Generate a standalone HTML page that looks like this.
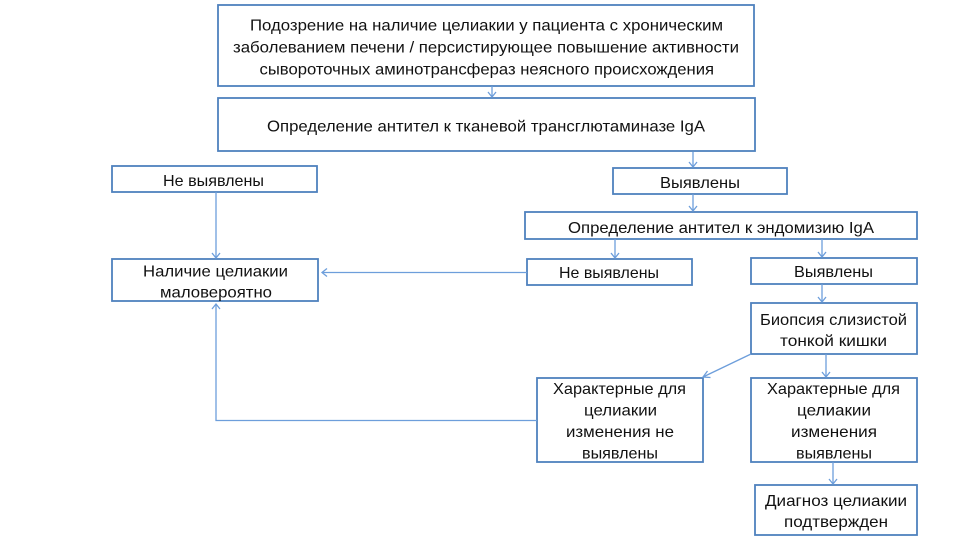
<!DOCTYPE html>
<html>
<head>
<meta charset="utf-8">
<style>
  html, body { margin:0; padding:0; background:#fff; }
  svg { display:block; }
  text { font-family: "Liberation Sans", "Noto Sans CJK SC", sans-serif; font-size:16px; fill:#111; }
</style>
</head>
<body>
<svg width="973" height="548" viewBox="0 0 973 548" xmlns="http://www.w3.org/2000/svg">
  <rect x="0" y="0" width="973" height="548" fill="#fff"/>
  <!-- boxes -->
  <g fill="#fff" stroke="#4f81bd" stroke-width="1.8">
    <rect x="218" y="5" width="536" height="81"/>
    <rect x="218" y="98" width="537" height="53"/>
    <rect x="112" y="166" width="205" height="26"/>
    <rect x="112" y="259" width="206" height="42"/>
    <rect x="613" y="168" width="174" height="26"/>
    <rect x="525" y="212" width="392" height="27"/>
    <rect x="527" y="259" width="165" height="26"/>
    <rect x="751" y="258" width="166" height="26"/>
    <rect x="751" y="303" width="166" height="51"/>
    <rect x="537" y="378" width="166" height="84"/>
    <rect x="751" y="378" width="166" height="84"/>
    <rect x="755" y="485" width="162" height="50"/>
  </g>

  <!-- connectors -->
  <g fill="none" stroke="#6d9edb" stroke-width="1.3">
    <line x1="492" y1="86" x2="492" y2="97"/>
    <polyline points="488,92 492,97 496,92"/>
    <line x1="693" y1="152" x2="693" y2="167"/>
    <polyline points="689,162 693,167 697,162"/>
    <line x1="693" y1="194" x2="693" y2="211"/>
    <polyline points="689,206 693,211 697,206"/>
    <line x1="615" y1="239" x2="615" y2="258"/>
    <polyline points="611,253 615,258 619,253"/>
    <line x1="822" y1="239" x2="822" y2="257"/>
    <polyline points="818,252 822,257 826,252"/>
    <line x1="216" y1="192" x2="216" y2="258"/>
    <polyline points="212,253 216,258 220,253"/>
    <line x1="527" y1="272.5" x2="322" y2="272.5"/>
    <polyline points="327,268.5 322,272.5 327,276.5"/>
    <line x1="822" y1="284" x2="822" y2="302"/>
    <polyline points="818,297 822,302 826,297"/>
    <line x1="751" y1="354" x2="703" y2="377"/>
    <polyline points="707.5,371 703,377 710.5,377.5"/>
    <line x1="826" y1="354" x2="826" y2="377"/>
    <polyline points="822,372 826,377 830,372"/>
    <line x1="833" y1="462" x2="833" y2="484"/>
    <polyline points="829,479 833,484 837,479"/>
    <polyline points="537,420.5 216,420.5 216,304"/>
    <polyline points="212,309 216,304 220,309"/>
  </g>

  <!-- texts -->
  <g>
    <text x="250" y="30.5" textLength="473" lengthAdjust="spacingAndGlyphs">Подозрение на наличие целиакии у пациента с хроническим</text>
    <text x="233" y="52.5" textLength="506" lengthAdjust="spacingAndGlyphs">заболеванием печени / персистирующее повышение активности</text>
    <text x="259.5" y="74.5" textLength="454.5" lengthAdjust="spacingAndGlyphs">сывороточных аминотрансфераз неясного происхождения</text>

    <text x="267" y="131.5" textLength="438" lengthAdjust="spacingAndGlyphs">Определение антител к тканевой трансглютаминазе IgA</text>

    <text x="163" y="186" textLength="101" lengthAdjust="spacingAndGlyphs">Не выявлены</text>

    <text x="143" y="276.7" textLength="145" lengthAdjust="spacingAndGlyphs">Наличие целиакии</text>
    <text x="160" y="297.5" textLength="112" lengthAdjust="spacingAndGlyphs">маловероятно</text>

    <text x="660" y="188" textLength="80" lengthAdjust="spacingAndGlyphs">Выявлены</text>

    <text x="568" y="233" textLength="306" lengthAdjust="spacingAndGlyphs">Определение антител к эндомизию IgA</text>

    <text x="559" y="278" textLength="100" lengthAdjust="spacingAndGlyphs">Не выявлены</text>
    <text x="794" y="277" textLength="79" lengthAdjust="spacingAndGlyphs">Выявлены</text>

    <text x="760" y="325" textLength="147" lengthAdjust="spacingAndGlyphs">Биопсия слизистой</text>
    <text x="780" y="346" textLength="107" lengthAdjust="spacingAndGlyphs">тонкой кишки</text>

    <text x="553" y="394" textLength="133" lengthAdjust="spacingAndGlyphs">Характерные для</text>
    <text x="584" y="415.5" textLength="73" lengthAdjust="spacingAndGlyphs">целиакии</text>
    <text x="566" y="437" textLength="108" lengthAdjust="spacingAndGlyphs">изменения не</text>
    <text x="582" y="458.5" textLength="76" lengthAdjust="spacingAndGlyphs">выявлены</text>

    <text x="767" y="394" textLength="133" lengthAdjust="spacingAndGlyphs">Характерные для</text>
    <text x="797" y="415.5" textLength="74" lengthAdjust="spacingAndGlyphs">целиакии</text>
    <text x="791" y="437" textLength="86" lengthAdjust="spacingAndGlyphs">изменения</text>
    <text x="796" y="458.5" textLength="76" lengthAdjust="spacingAndGlyphs">выявлены</text>

    <text x="765" y="506" textLength="142" lengthAdjust="spacingAndGlyphs">Диагноз целиакии</text>
    <text x="784" y="527" textLength="104" lengthAdjust="spacingAndGlyphs">подтвержден</text>
  </g>
</svg>
</body>
</html>
